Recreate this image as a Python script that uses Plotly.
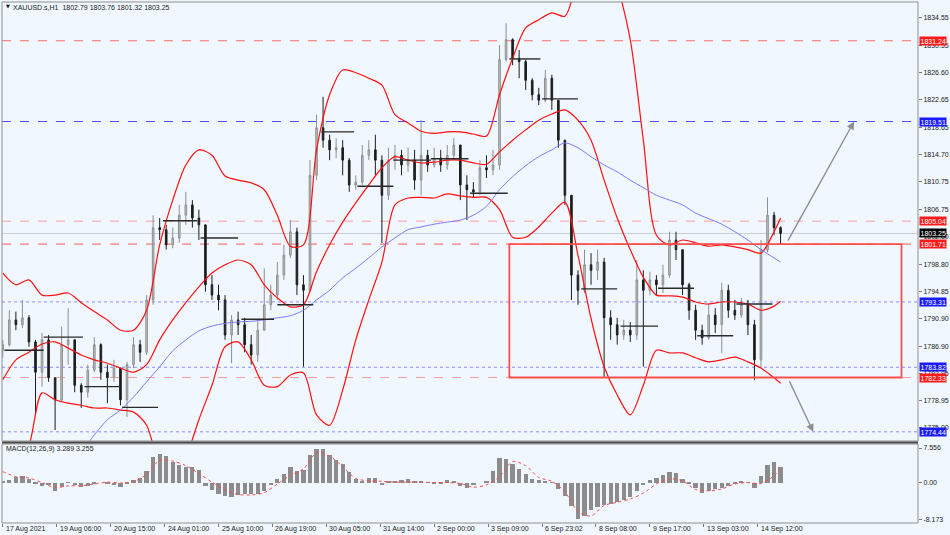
import plotly.graph_objects as go

# ---------------- data ----------------
header_text = "XAUUSD.s,H1  1802.79 1803.76 1801.32 1803.25"
macd_text = "MACD(12,26,9) 3.289 3.255"

bars_per_candle = 4
first_open = 1786.3
close = [1787.1, 1790.7, 1790.0, 1791.0, 1787.5, 1783.1, 1787.8, 1782.3, 1779.1, 1787.1,
         1787.8, 1781.2, 1780.2, 1783.4, 1787.1, 1783.1, 1782.3, 1783.7, 1779.1, 1784.2,
         1787.1, 1786.0, 1793.6, 1804.1, 1803.8, 1801.6, 1802.6, 1805.9, 1807.4, 1805.5,
         1804.5, 1795.8, 1794.3, 1793.6, 1788.5, 1790.7, 1790.0, 1787.1, 1785.6, 1789.2,
         1792.9, 1794.3, 1797.2, 1800.1, 1803.5, 1795.8, 1795.0, 1811.7, 1818.6, 1816.8,
         1815.4, 1815.7, 1813.9, 1810.3, 1810.7, 1814.6, 1815.4, 1813.9, 1808.8, 1813.9,
         1814.6, 1813.2, 1813.9, 1811.0, 1814.6, 1813.2, 1814.2, 1813.2, 1814.6, 1816.1,
         1810.3, 1809.6, 1809.3, 1812.8, 1812.5, 1813.2, 1828.5, 1831.4, 1828.7, 1828.2,
         1825.5, 1823.4, 1822.6, 1825.8, 1822.6, 1816.8, 1808.8, 1797.2, 1795.0, 1798.7,
         1797.9, 1799.1, 1791.0, 1790.0, 1788.5, 1789.2, 1788.5, 1796.5, 1795.0, 1796.5,
         1795.8, 1797.2, 1802.3, 1800.9, 1795.8, 1792.1, 1789.2, 1788.1, 1791.4, 1790.0,
         1795.0, 1792.1, 1791.4, 1792.9, 1790.0, 1784.9, 1800.9, 1805.9, 1804.1, 1803.25]
high = [1787.8, 1792.1, 1791.9, 1793.6, 1791.4, 1787.8, 1788.8, 1788.5, 1782.3, 1789.7,
        1792.4, 1787.8, 1781.5, 1784.2, 1788.2, 1787.3, 1784.2, 1784.9, 1783.7, 1784.6,
        1788.2, 1787.8, 1794.3, 1805.9, 1805.5, 1804.5, 1804.1, 1807.4, 1809.3, 1808.1,
        1806.7, 1804.5, 1797.2, 1795.8, 1794.3, 1791.4, 1791.9, 1791.0, 1788.5, 1790.7,
        1798.2, 1795.8, 1799.1, 1801.6, 1805.2, 1804.1, 1797.2, 1813.9, 1820.5, 1823.1,
        1817.6, 1817.1, 1816.8, 1814.2, 1811.7, 1816.1, 1816.8, 1817.6, 1814.6, 1815.7,
        1816.1, 1815.4, 1815.7, 1815.4, 1819.7, 1815.4, 1815.7, 1815.4, 1816.1, 1817.1,
        1816.1, 1811.7, 1810.7, 1813.9, 1814.6, 1815.4, 1830.6, 1833.8, 1831.6, 1829.9,
        1828.5, 1825.8, 1824.4, 1827.0, 1826.3, 1822.6, 1816.8, 1808.8, 1797.9, 1800.9,
        1800.4, 1800.9, 1799.7, 1792.1, 1791.0, 1790.7, 1790.4, 1799.4, 1797.9, 1797.7,
        1797.2, 1798.7, 1803.5, 1803.5, 1800.9, 1796.1, 1792.9, 1790.0, 1792.9, 1792.4,
        1796.1, 1795.8, 1793.6, 1793.9, 1793.6, 1790.7, 1802.3, 1808.5, 1806.4, 1804.3]
low = [1785.2, 1786.8, 1789.2, 1789.5, 1786.8, 1777.2, 1781.0, 1781.7, 1774.7, 1778.8,
       1784.2, 1780.2, 1777.9, 1779.4, 1783.1, 1782.0, 1778.6, 1781.7, 1778.3, 1776.6,
       1783.7, 1784.6, 1785.6, 1792.9, 1802.3, 1800.9, 1801.1, 1801.9, 1804.5, 1804.1,
       1802.3, 1794.8, 1793.6, 1792.1, 1787.8, 1784.4, 1788.5, 1786.0, 1784.2, 1784.6,
       1789.2, 1792.1, 1793.6, 1796.5, 1799.7, 1794.3, 1783.9, 1794.8, 1811.0, 1815.7,
       1813.9, 1814.2, 1811.7, 1809.3, 1809.6, 1810.3, 1813.9, 1811.7, 1801.9, 1808.1,
       1812.5, 1811.7, 1812.2, 1809.6, 1808.8, 1812.2, 1812.8, 1812.2, 1812.5, 1813.9,
       1808.1, 1805.2, 1808.4, 1808.8, 1811.3, 1811.7, 1812.5, 1828.2, 1827.7, 1825.8,
       1824.1, 1822.6, 1821.9, 1822.3, 1821.2, 1815.7, 1807.4, 1793.6, 1792.9, 1794.6,
       1795.8, 1796.5, 1782.4, 1787.8, 1787.1, 1787.8, 1787.5, 1787.8, 1783.9, 1794.3,
       1794.3, 1794.6, 1796.8, 1799.4, 1794.3, 1790.7, 1787.8, 1787.1, 1787.8, 1788.8,
       1785.9, 1791.0, 1790.7, 1791.0, 1788.5, 1782.0, 1783.7, 1800.5, 1803.0, 1801.6]

band_bars = list(range(0, 473, 8)) + [476]
bb_upper = [1797.5, 1795.8, 1796.5, 1794.3, 1794.3, 1794.6, 1793.2, 1791.9, 1790.7, 1789.2,
            1789.2, 1792.1, 1801.6, 1808.1, 1813.2, 1815.4, 1814.6, 1811.6, 1811.0, 1810.6,
            1809.6, 1805.9, 1801.4, 1801.6, 1815.4, 1823.4, 1827.0, 1826.6, 1825.8, 1824.8,
            1820.5, 1819.3, 1818.1, 1817.8, 1818.0, 1818.0, 1817.7, 1817.4, 1823.4, 1828.7,
            1833.1, 1834.3, 1835.3, 1834.8, 1840.1, 1843.0, 1844.4, 1839.3, 1831.4, 1816.8,
            1803.0, 1801.6, 1802.3, 1801.9, 1801.4, 1801.6, 1801.3, 1800.9, 1800.4, 1803.5,
            1805.5]
bb_middle = [1782.0, 1784.9, 1786.0, 1787.2, 1787.5, 1786.6, 1785.6, 1784.9, 1784.4, 1783.7,
             1783.1, 1784.2, 1787.8, 1790.7, 1793.2, 1795.5, 1797.5, 1798.7, 1799.4, 1798.7,
             1795.8, 1793.9, 1792.6, 1792.9, 1797.7, 1801.6, 1804.9, 1807.7, 1810.3, 1812.8,
             1814.4, 1813.9, 1813.5, 1813.6, 1813.9, 1813.9, 1813.5, 1813.3, 1815.1, 1816.8,
             1818.3, 1819.7, 1820.6, 1821.2, 1819.7, 1816.8, 1811.0, 1805.5, 1800.9, 1796.9,
             1794.3, 1794.2, 1794.0, 1793.3, 1793.0, 1793.3, 1793.3, 1793.0, 1792.1, 1792.7,
             1793.4]
bb_lower = [1768.9, 1769.6, 1772.5, 1780.1, 1779.1, 1778.6, 1778.3, 1777.9, 1777.9, 1777.6,
            1777.3, 1775.4, 1768.9, 1764.5, 1770.4, 1776.2, 1781.2, 1786.8, 1787.5, 1784.9,
            1781.2, 1781.0, 1782.7, 1783.0, 1776.9, 1775.4, 1780.5, 1787.8, 1793.6, 1799.1,
            1807.4, 1808.4, 1808.5, 1808.4, 1809.0, 1808.7, 1808.5, 1808.5, 1806.7, 1802.7,
            1802.7, 1804.2, 1806.2, 1807.8, 1800.1, 1790.9, 1783.9, 1779.8, 1776.9, 1781.2,
            1786.3, 1785.9, 1785.9, 1785.2, 1784.6, 1784.9, 1785.3, 1784.6, 1783.7, 1782.3,
            1781.5]
moving_avg = [1761.6, 1763.1, 1764.5, 1766.0, 1767.4, 1769.2, 1771.5, 1774.0, 1776.2, 1777.6,
              1779.5, 1781.7, 1783.9, 1786.2, 1787.8, 1789.1, 1789.8, 1790.2, 1790.4, 1790.5,
              1790.7, 1791.0, 1791.3, 1792.1, 1793.6, 1795.0, 1796.8, 1798.2, 1799.7, 1801.3,
              1802.6, 1803.8, 1804.2, 1804.6, 1804.9, 1805.2, 1805.9, 1807.2, 1809.6, 1811.5,
              1813.1, 1814.4, 1815.4, 1816.4, 1815.7, 1814.4, 1813.2, 1812.2, 1811.0, 1809.9,
              1808.8, 1808.1, 1807.4, 1806.2, 1805.4, 1804.6, 1803.5, 1802.3, 1800.9, 1799.7,
              1799.1]

macd_hist = [0.3, 0.6, 1.2, 1.5, 0.8, -0.3, -0.7, -0.6, -1.8, -1.0,
             0.1, -0.6, -0.9, -0.7, -0.2, 0.0, -0.2, -0.5, -0.9, -0.4,
             0.5, 1.0, 2.5, 5.5, 6.3, 5.8, 4.6, 3.9, 3.5, 3.3,
             2.8, -0.8, -1.6, -2.4, -2.9, -3.1, -2.7, -2.6, -2.6, -2.4,
             -1.8, -0.6, 0.8, 1.8, 3.4, 2.6, 2.7, 6.0, 7.4, 7.3,
             6.0, 5.0, 4.0, 2.4, 0.8, 0.3, 0.9, 0.9, -0.5, 0.3,
             0.4, 0.6, 0.7, 0.2, 0.3, 0.1, -0.3, -0.1, 0.5, 0.2,
             -0.8, -1.1, -0.5, 0.0, 0.4, 2.5, 5.4, 5.2, 4.0, 2.9,
             1.8, 0.8, 0.5, 0.3, 0.1, -1.3, -3.0, -5.2, -8.0, -7.2,
             -6.0, -5.3, -4.9, -4.6, -4.3, -3.8, -3.2, -1.8, -0.5, 0.5,
             1.0, 1.6, 2.3, 2.0, 0.8, -0.3, -1.2, -2.2, -1.8, -1.5,
             -1.1, -0.8, -0.4, 0.2, 0.1, -1.2, 1.5, 3.8, 4.5, 3.3]
macd_signal = [2.4, 1.3, 1.0, 0.0, -1.1, -0.7, -0.7, -0.3, 0.1, -0.1,
               0.2, 1.8, 4.9, 4.7, 3.7, 2.0, 0.1, -1.6, -2.6, -2.7,
               -2.2, -0.3, 1.6, 3.0, 6.5, 5.8, 3.5, 0.9, 0.4, 0.3,
               0.1, 0.1, 0.1, 0.0, 0.0, -0.2, -1.0, -0.5, 1.3, 4.6,
               3.7, 1.1, 0.3, -2.0, -6.3, -7.3, -5.0, -4.3, -3.6, -2.3,
               -0.3, 0.8, 0.4, -1.5, -1.8, -1.4, -0.3, 0.0, -0.2, 1.5,
               3.3]

# daily open segments
day_start_bars = [1, 25, 50, 73, 98, 121, 146, 168, 195, 217, 239, 262, 286, 310, 330, 354, 378, 401, 425, 449]
day_end_bars = [25, 49, 72, 95, 119, 144, 166, 190, 215, 239, 262, 285, 309, 329, 352, 376, 401, 423, 447, 471]
day_open_price = [1786.3, 1788.2, 1781.0, 1778.0, 1805.1, 1802.6, 1790.8, 1792.9, 1818.0, 1810.1,
                  1813.9, 1814.1, 1809.1, 1828.6, 1822.8, 1795.2, 1789.8, 1795.3, 1788.4, 1793.0]

# horizontal levels
red_dash_levels = [1831.24, 1805.04, 1801.71, 1782.33]
red_dash_colors = ['#ff6a6a', '#ff9e9e', '#ff5a5a', '#ff9e9e']
blue_dash_levels = [1819.51]
blue_dot_levels = [1793.31, 1783.82, 1774.44]
bid_price = 1803.25

# range box (time in bars, prices are levels)
box_bars = [310, 550]
box_prices = [1801.71, 1782.33]

# projection arrows: (from_bar, from_price, to_bar, to_price)
arrow_up = [480, 1802.0, 521, 1819.51]
arrow_down = [481, 1782.0, 496, 1774.44]

tick_bars = [0, 33, 66, 99, 132, 165, 198, 231, 264, 297, 330, 363, 396, 429, 462]
tick_labels = ["17 Aug 2021", "19 Aug 06:00", "20 Aug 15:00", "24 Aug 01:00", "25 Aug 10:00",
               "26 Aug 19:00", "30 Aug 05:00", "31 Aug 14:00", "2 Sep 00:00", "3 Sep 09:00",
               "6 Sep 23:02", "8 Sep 08:00", "9 Sep 17:00", "13 Sep 03:00", "14 Sep 12:00"]
price_ticks = [1834.55, 1830.55, 1826.60, 1822.65, 1818.65, 1814.70, 1810.75, 1806.75,
               1802.80, 1798.80, 1794.85, 1790.90, 1786.90, 1782.95, 1778.95, 1775.00]
macd_ticks = [7.556, 0.0, -8.173]
macd_tick_labels = ["7.556", "0.00", "-8.173"]

# ---------------- figure ----------------
FONT = "Liberation Sans"
BG = '#f0f7fe'

candle_x = [i * bars_per_candle for i in range(len(close))]
opens = [first_open] + close[:-1]

fig = go.Figure()

fig.add_trace(go.Candlestick(
    x=candle_x, open=opens, high=high, low=low, close=close,
    xaxis='x', yaxis='y',
    increasing=dict(line=dict(color='#8f8f8f', width=1), fillcolor='#c4c4c4'),
    decreasing=dict(line=dict(color='#1e1e1e', width=1), fillcolor='#1e1e1e'),
    whiskerwidth=0, hoverinfo='skip'))

for series in (bb_upper, bb_middle, bb_lower):
    fig.add_trace(go.Scatter(x=band_bars, y=series, mode='lines', xaxis='x', yaxis='y',
                             line=dict(color='#ff1010', width=1.2, shape='spline', smoothing=0.8),
                             hoverinfo='skip'))
fig.add_trace(go.Scatter(x=band_bars, y=moving_avg, mode='lines', xaxis='x', yaxis='y',
                         line=dict(color='#7b7bff', width=1, shape='spline', smoothing=0.8),
                         hoverinfo='skip'))

for s, e, p in zip(day_start_bars, day_end_bars, day_open_price):
    fig.add_trace(go.Scatter(x=[s, e], y=[p, p], mode='lines', xaxis='x', yaxis='y',
                             line=dict(color='#2a2a2a', width=1.4), hoverinfo='skip'))

fig.add_trace(go.Bar(x=candle_x, y=macd_hist, xaxis='x', yaxis='y2', width=2.6,
                     marker=dict(color='#8c8c8c', line=dict(width=0)), hoverinfo='skip'))
fig.add_trace(go.Scatter(x=band_bars, y=macd_signal, mode='lines', xaxis='x', yaxis='y2',
                         line=dict(color='#ff4a4a', width=1, dash='dot', shape='spline', smoothing=0.8),
                         hoverinfo='skip'))

shapes = []
# horizontal levels
shapes.append(dict(type='line', xref='paper', yref='y', x0=0, x1=1, y0=bid_price, y1=bid_price,
                   line=dict(color='#c9ced6', width=1), layer='below'))
for lv, col in zip(red_dash_levels, red_dash_colors):
    shapes.append(dict(type='line', xref='paper', yref='y', x0=0, x1=1, y0=lv, y1=lv,
                       line=dict(color=col, width=1, dash='dash'), layer='below'))
for lv in blue_dash_levels:
    shapes.append(dict(type='line', xref='paper', yref='y', x0=0, x1=1, y0=lv, y1=lv,
                       line=dict(color='#4d4dff', width=1, dash='dash'), layer='below'))
for lv in blue_dot_levels:
    shapes.append(dict(type='line', xref='paper', yref='y', x0=0, x1=1, y0=lv, y1=lv,
                       line=dict(color='#8c8cff', width=1, dash='dot'), layer='below'))
# range box
shapes.append(dict(type='rect', xref='x', yref='y', x0=box_bars[0], x1=box_bars[1],
                   y0=box_prices[1], y1=box_prices[0],
                   line=dict(color='#ff4e4e', width=1.8), fillcolor='rgba(0,0,0,0)', layer='above'))
# panel frames
shapes.append(dict(type='rect', xref='paper', yref='y domain', x0=0, x1=1, y0=0, y1=1,
                   line=dict(color='#8f8f8f', width=1)))
shapes.append(dict(type='rect', xref='paper', yref='y2 domain', x0=0, x1=1, y0=0, y1=1,
                   line=dict(color='#8f8f8f', width=1)))
shapes.append(dict(type='line', xref='paper', yref='paper', x0=0, x1=1, y0=0.1545, y1=0.1545,
                   line=dict(color='#4a4a4a', width=2)))

annotations = []
# level labels on price axis
level_labels = ([(lv, '#ff1a1a') for lv in red_dash_levels] +
                [(lv, '#1a1aff') for lv in blue_dash_levels] +
                [(lv, '#1a1aff') for lv in blue_dot_levels] +
                [(bid_price, '#000000')])
for lv, col in level_labels:
    annotations.append(dict(x=1, xref='paper', xanchor='left', xshift=1, y=lv, yref='y',
                            yanchor='middle', text=f"{lv:.2f}", showarrow=False,
                            bgcolor=col, borderpad=0.5,
                            font=dict(family=FONT, size=7, color='white')))
# arrows
for a in (arrow_up, arrow_down):
    annotations.append(dict(x=a[2], y=a[3], ax=a[0], ay=a[1], xref='x', yref='y',
                            axref='x', ayref='y', text='', showarrow=True,
                            arrowhead=2, arrowsize=1.1, arrowwidth=1.4, arrowcolor='#8e8e8e'))
# time labels
for b, t in zip(tick_bars, tick_labels):
    annotations.append(dict(x=b, xref='x', xanchor='left', xshift=1, y=0, yref='paper',
                            yanchor='middle', yshift=-6, text=t, showarrow=False,
                            font=dict(family=FONT, size=7, color='#222')))
# headers
annotations.append(dict(x=0, xref='paper', xanchor='left', xshift=2, y=1, yref='paper',
                        yanchor='middle', yshift=-4, text='▼', showarrow=False,
                        font=dict(family='DejaVu Sans', size=5, color='#111')))
annotations.append(dict(x=0, xref='paper', xanchor='left', xshift=9, y=1, yref='paper',
                        yanchor='middle', yshift=-5, text=header_text, showarrow=False,
                        font=dict(family=FONT, size=7, color='#222')))
annotations.append(dict(x=0, xref='paper', xanchor='left', xshift=2, y=0.1516, yref='paper',
                        yanchor='middle', yshift=-5, text=macd_text, showarrow=False,
                        font=dict(family=FONT, size=7, color='#222')))

axis_font = dict(family=FONT, size=7, color='#222')
fig.update_layout(
    width=950, height=535,
    margin=dict(l=2, r=32, t=2, b=12),
    paper_bgcolor=BG, plot_bgcolor=BG,
    showlegend=False, bargap=0, boxgap=0.65,
    xaxis=dict(domain=[0, 1], range=[-0.5, 560.1], anchor='y2', showgrid=False, zeroline=False,
               showline=False, tickmode='array', tickvals=tick_bars, ticks='outside', ticklen=3,
               tickcolor='#777', showticklabels=False, rangeslider=dict(visible=False),
               automargin=False),
    yaxis=dict(domain=[0.1574, 1], range=[1773.11, 1836.87], side='right', anchor='x',
               showgrid=False, zeroline=False, showline=False, tickmode='array',
               tickvals=price_ticks, ticktext=[f"{v:.2f}" for v in price_ticks],
               ticks='outside', ticklen=3, tickcolor='#777', tickfont=axis_font, automargin=False),
    yaxis2=dict(domain=[0, 0.1516], range=[-8.83, 8.43], side='right', anchor='x',
                showgrid=False, zeroline=False, showline=False, tickmode='array',
                tickvals=macd_ticks, ticktext=macd_tick_labels,
                ticks='outside', ticklen=3, tickcolor='#777', tickfont=axis_font, automargin=False),
    shapes=shapes, annotations=annotations,
)

fig.write_html("out.html", config={'displayModeBar': False},
               post_script="document.body.style.margin='0';document.body.style.overflow='hidden';")
